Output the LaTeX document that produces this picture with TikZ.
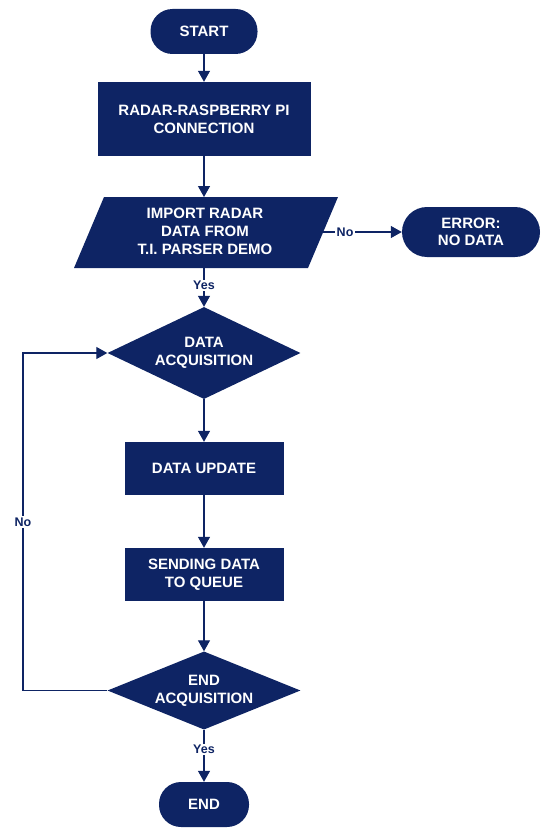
\documentclass[tikz,border=0pt]{standalone}
\usepackage{fontspec}
\setmainfont{Liberation Sans}
\usetikzlibrary{shapes.geometric,arrows.meta}
\definecolor{navy}{RGB}{14,36,100}
\begin{document}
\begin{tikzpicture}[x=1pt,y=-1pt,
 base/.style={fill=navy,text=white,font=\fontsize{15}{18}\selectfont\bfseries,align=center,inner sep=0pt},
 term/.style={base,rectangle,rounded corners=22pt,minimum height=45pt},
 proc/.style={base,rectangle},
 dec/.style={base,diamond,aspect=2.1},
 flow/.style={draw=navy,line width=1.3pt,-{Triangle[width=12pt,length=11pt]}},
 lab/.style={fill=white,text=navy,font=\fontsize{12.5}{14}\selectfont\bfseries,inner sep=1.5pt}]
\useasboundingbox (0,0) rectangle (550,840);
% nodes
\node[term,minimum width=107pt] (start) at (204,31.5) {START};
\node[proc,minimum width=213pt,minimum height=74pt] (radar) at (204,119) {RADAR-RASPBERRY PI\\CONNECTION};
\fill[navy] (104,197) -- (338,197) -- (308,268) -- (74,268) -- cycle;
\node[base,fill=none] (imp) at (205,231) {IMPORT RADAR\\DATA FROM\\T.I. PARSER DEMO};
\coordinate (imptop) at (204,197);
\coordinate (impbot) at (204,268);
\coordinate (impright) at (323,232);
\node[term,minimum width=138pt,minimum height=50pt,rounded corners=25pt,font=\fontsize{15}{17}\selectfont\bfseries] (err) at (471,232) {ERROR:\\NO DATA};
\node[dec,minimum width=193pt,minimum height=92pt] (dacq) at (204,353) {DATA\\ACQUISITION};
\node[proc,minimum width=159pt,minimum height=53pt] (upd) at (204,468.5) {DATA UPDATE};
\node[proc,minimum width=159pt,minimum height=53pt] (send) at (204,574.5) {SENDING DATA\\TO QUEUE};
\node[dec,minimum width=193pt,minimum height=75pt] (eacq) at (204,690.5) {END\\ACQUISITION};
\node[term,minimum width=90pt] (end) at (204,804.5) {END};
\coordinate (loop) at (23,522);
% connectors
\draw[flow] (start) -- (radar);
\draw[flow] (radar) -- (imptop);
\draw[flow] (impright) -- node[lab,pos=0.28]{No} (err);
\draw[flow] (impbot) -- node[lab,pos=0.45]{Yes} (dacq);
\draw[flow] (dacq) -- (upd);
\draw[flow] (upd) -- (send);
\draw[flow] (send) -- (eacq);
\draw[flow] (eacq) -- node[lab,pos=0.38]{Yes} (end);
\draw[flow] (eacq.west) -| (loop) |- (dacq.west);
\node[lab] (nolab) at (loop) {No};
\end{tikzpicture}
\end{document}
